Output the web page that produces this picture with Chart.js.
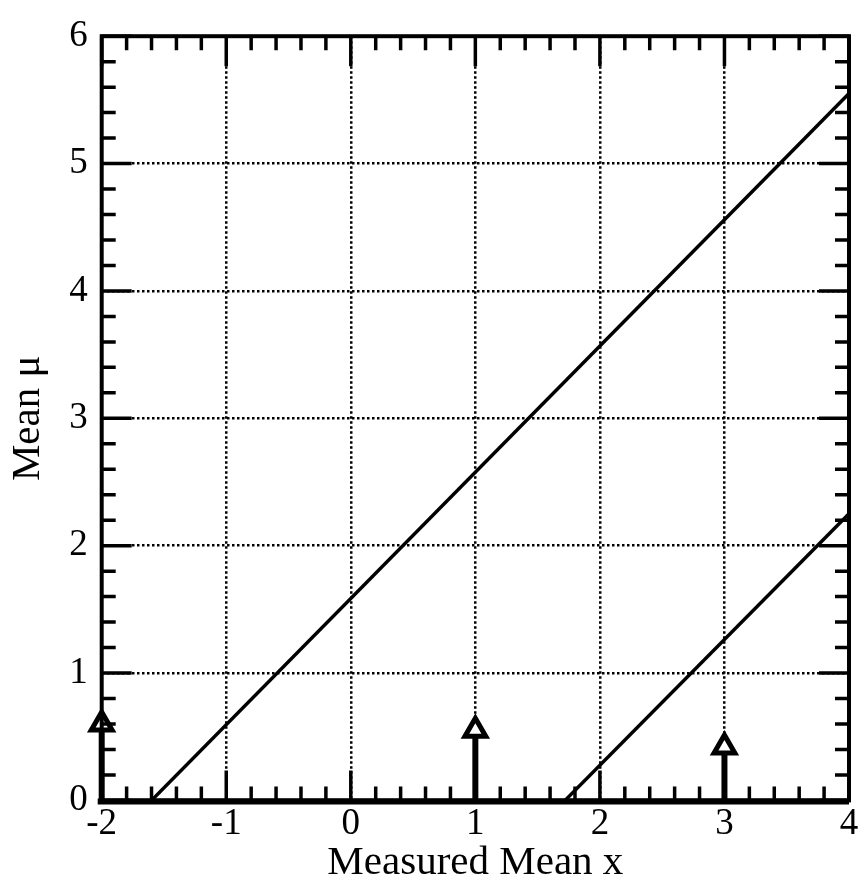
<!DOCTYPE html>
<html>
<head>
<meta charset="utf-8">
<script src="https://cdn.jsdelivr.net/npm/chart.js@4"></script>
<style>
  body { margin: 0; background: #fff; }
  #wrap { width: 866px; height: 894px; }
</style>
</head>
<body>
<div id="wrap"><canvas id="myChart"></canvas></div>
<script>
// values
var xTicks = [-2, -1, 0, 1, 2, 3, 4];
var yTicks = [0, 1, 2, 3, 4, 5, 6];

var upperX = [-1.6, 4];
var upperMu = [0, 5.55];

var lowerX = [1.72, 4];
var lowerMu = [0, 2.25];

var arrowX = [-2, 1, 3];
var arrowTop = [0.6, 0.55, 0.42];

var serif = '"Liberation Serif", "DejaVu Serif", serif';

function toPoints(xs, ys) {
    var pts = [];
    for (var i = 0; i < xs.length; i++) {
        pts.push({ x: xs[i], y: ys[i] });
    }
    return pts;
}

var datasets = [
    { data: toPoints(upperX, upperMu), borderColor: '#000', borderWidth: 3.5, pointRadius: 0, showLine: true },
    { data: toPoints(lowerX, lowerMu), borderColor: '#000', borderWidth: 3.5, pointRadius: 0, showLine: true }
];

// hand drawn arrows standing on the axis
for (var i = 0; i < arrowX.length; i++) {
    datasets.push({
        data: [{ x: arrowX[i], y: 0 }, { x: arrowX[i], y: arrowTop[i] }],
        borderColor: '#000',
        borderWidth: 6,
        showLine: true,
        clip: false,
        pointStyle: 'triangle',
        pointRadius: [0, 12],
        pointBorderWidth: 5,
        pointBorderColor: '#000',
        pointBackgroundColor: '#fff'
    });
}

// frame and the small inward ticks on all four sides
var frameTicks = {
    id: 'frameTicks',
    afterDatasetsDraw: function(chart) {
        var ctx = chart.ctx;
        var xs = chart.scales.x;
        var ys = chart.scales.y;
        var a = chart.chartArea;
        ctx.save();
        ctx.strokeStyle = '#000';
        ctx.lineWidth = 3.5;
        ctx.lineCap = 'butt';
        for (var i = 0; i <= 30; i++) {
            var len = (i % 5 == 0) ? 30 : 14;
            var px = xs.getPixelForValue(xs.min + i * 0.2);
            var py = ys.getPixelForValue(ys.min + i * 0.2);
            ctx.beginPath();
            ctx.moveTo(px, a.bottom); ctx.lineTo(px, a.bottom - len);
            ctx.moveTo(px, a.top); ctx.lineTo(px, a.top + len);
            ctx.moveTo(a.left, py); ctx.lineTo(a.left + len, py);
            ctx.moveTo(a.right, py); ctx.lineTo(a.right - len, py);
            ctx.stroke();
        }
        ctx.lineWidth = 4;
        ctx.strokeRect(a.left, a.top, a.right - a.left, a.bottom - a.top);
        ctx.lineWidth = 6;
        ctx.beginPath();
        ctx.moveTo(a.left - 4, a.bottom + 1);
        ctx.lineTo(a.right, a.bottom + 1);
        ctx.stroke();
        ctx.restore();
    }
};

var ctx = document.getElementById('myChart').getContext('2d');
var myChart = new Chart(ctx, {
    type: 'scatter',
    data: { datasets: datasets },
    options: {
        responsive: true,
        maintainAspectRatio: false,
        animation: false,
        layout: { padding: { top: 3, right: 12, left: 4, bottom: 6 } },
        plugins: { legend: { display: false }, tooltip: { enabled: false } },
        scales: {
            x: {
                type: 'linear',
                min: -2,
                max: 4,
                afterBuildTicks: function(scale) {
                    scale.ticks = xTicks.map(function(v) { return { value: v }; });
                },
                grid: { drawTicks: false, color: '#000', lineWidth: 2.5 },
                border: { display: false, dash: [2.5, 2.5] },
                ticks: { color: '#000', padding: 2, font: { family: serif, size: 37 } },
                title: {
                    display: true,
                    text: 'Measured Mean x',
                    color: '#000',
                    padding: { top: -10, bottom: 0 },
                    font: { family: serif, size: 41 }
                }
            },
            y: {
                type: 'linear',
                min: 0,
                max: 6,
                afterBuildTicks: function(scale) {
                    scale.ticks = yTicks.map(function(v) { return { value: v }; });
                },
                grid: { drawTicks: false, color: '#000', lineWidth: 2.5 },
                border: { display: false, dash: [2.5, 2.5] },
                ticks: { color: '#000', padding: 14, font: { family: serif, size: 37 } },
                title: {
                    display: true,
                    text: 'Mean μ',
                    color: '#000',
                    padding: { top: 0, bottom: 2 },
                    font: { family: serif, size: 41 }
                }
            }
        }
    },
    plugins: [frameTicks]
});
</script>
</body>
</html>
